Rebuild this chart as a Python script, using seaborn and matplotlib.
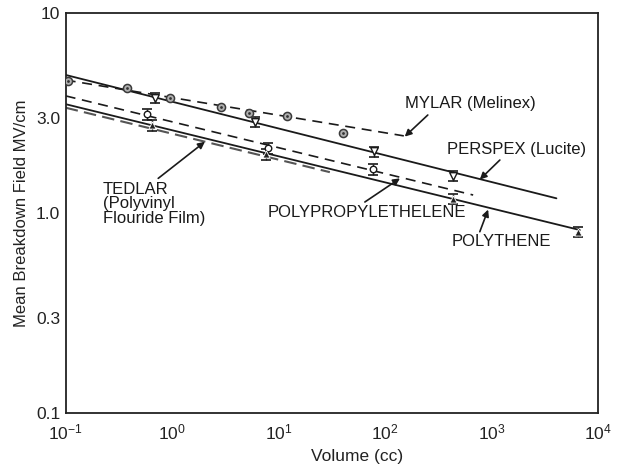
import matplotlib
matplotlib.use("Agg")
import matplotlib.pyplot as plt
import matplotlib.ticker as mticker
import numpy as np
import pandas as pd
import seaborn as sns

# ---- data ----
mylar_vol = [0.106, 0.374, 0.953, 2.85, 5.3, 11.9, 40.4]
mylar_field = [4.59, 4.23, 3.75, 3.38, 3.15, 3.04, 2.50]
mylar_fit_vol = [0.1, 150]
mylar_fit_field = [4.62, 2.43]

perspex_vol = [0.69, 6.0, 79.4, 436]
perspex_field = [3.75, 2.86, 2.03, 1.53]
perspex_err = [0.22, 0.17, 0.12, 0.09]
perspex_fit_vol = [0.1, 4070]
perspex_fit_field = [4.90, 1.184]

polyprop_vol = [0.583, 7.99, 77.6]
polyprop_field = [3.12, 2.11, 1.65]
polyprop_err = [0.19, 0.13, 0.10]
polyprop_fit_vol = [0.1, 672]
polyprop_fit_field = [3.85, 1.23]

polythene_vol = [0.642, 7.6, 436, 6460]
polythene_field = [2.75, 1.97, 1.18, 0.806]
polythene_err = [0.17, 0.12, 0.07, 0.05]
polythene_fit_vol = [0.1, 6750]
polythene_fit_field = [3.50, 0.822]

tedlar_fit_vol = [0.1, 30.3]
tedlar_fit_field = [3.36, 1.60]

y_ticks = [0.1, 0.3, 1.0, 3.0, 10]
y_tick_labels = ["0.1", "0.3", "1.0", "3.0", "10"]
x_ticks = [0.1, 1, 10, 100, 1000, 10000]

# ---- style ----
sns.set_theme(style="white")
plt.rcParams["font.family"] = ["Liberation Sans", "DejaVu Sans"]
plt.rcParams["mathtext.fontset"] = "custom"
plt.rcParams["mathtext.rm"] = "Liberation Sans"
plt.rcParams["mathtext.it"] = "Liberation Sans:italic"
plt.rcParams["mathtext.bf"] = "Liberation Sans:bold"

fig = plt.figure(figsize=(6.22, 4.69), dpi=100)
ax = fig.add_axes([0.1056, 0.1194, 0.8558, 0.8529])
ax.set_xscale("log")
ax.set_yscale("log")

line_col = "#1a1a1a"

def fit_line(xs, ys, dashed=False, color=line_col, lw=1.3, dashes=(6, 4)):
    df = pd.DataFrame({"v": xs, "e": ys})
    l = sns.lineplot(data=df, x="v", y="e", ax=ax, color=color, lw=lw,
                     estimator=None, sort=False, legend=False)
    if dashed:
        l.lines[-1].set_dashes(dashes)

fit_line(perspex_fit_vol, perspex_fit_field)
fit_line(polythene_fit_vol, polythene_fit_field)
fit_line(mylar_fit_vol, mylar_fit_field, dashed=True, lw=1.2)
fit_line(polyprop_fit_vol, polyprop_fit_field, dashed=True, lw=1.2)
fit_line(tedlar_fit_vol, tedlar_fit_field, dashed=True, color="#555555", lw=1.5, dashes=(6, 3))

# error bars
def ebars(xs, ys, errs):
    ax.errorbar(xs, ys, yerr=errs, fmt="none", ecolor=line_col, elinewidth=1.0,
                capsize=3.5, capthick=1.2, zorder=3)

ebars(perspex_vol, perspex_field, perspex_err)
ebars(polyprop_vol, polyprop_field, polyprop_err)
ebars(polythene_vol, polythene_field, polythene_err)

# points
sns.scatterplot(x=mylar_vol, y=mylar_field, ax=ax, marker="o", s=34,
                facecolor="#b0b0b0", edgecolor="#3a3a3a", linewidth=1.1, zorder=4)
sns.scatterplot(x=mylar_vol, y=mylar_field, ax=ax, marker="o", s=4,
                color="#333333", linewidth=0, zorder=5)
sns.scatterplot(x=perspex_vol, y=perspex_field, ax=ax, marker="v", s=30,
                facecolor="white", edgecolor=line_col, linewidth=1.0, zorder=4)
sns.scatterplot(x=polyprop_vol, y=polyprop_field, ax=ax, marker="o", s=22,
                facecolor="white", edgecolor=line_col, linewidth=1.0, zorder=4)
sns.scatterplot(x=polythene_vol, y=polythene_field, ax=ax, marker="^", s=26,
                color="#222222", linewidth=0.6, zorder=4)

# axes
ax.set_xlim(0.1, 1e4)
ax.set_ylim(0.1, 10)
ax.xaxis.set_major_locator(mticker.FixedLocator(x_ticks))
ax.xaxis.set_major_formatter(mticker.LogFormatterSciNotation())
ax.xaxis.set_minor_locator(mticker.NullLocator())
ax.yaxis.set_major_locator(mticker.FixedLocator(y_ticks))
ax.yaxis.set_major_formatter(mticker.FixedFormatter(y_tick_labels))
ax.yaxis.set_minor_locator(mticker.NullLocator())
ax.tick_params(axis="y", direction="in", length=10, width=1.2, labelsize=12.5,
               pad=4, colors="#222222")
ax.tick_params(axis="x", direction="in", length=3.5, width=1.0, labelsize=12.5,
               pad=7, colors="#222222")
for sp in ax.spines.values():
    sp.set_linewidth(1.3)
    sp.set_color("#222222")
ax.set_xlabel("Volume (cc)", fontsize=12.5, color="#222222")
ax.set_ylabel("Mean Breakdown Field MV/cm", fontsize=12, color="#222222")
ax.xaxis.set_label_coords(0.548, -0.09)
ax.yaxis.set_label_coords(-0.068, 0.5)

# annotations
txt_kw = dict(fontsize=12, color="#1a1a1a", va="center", ha="left")
arrow_kw = dict(arrowstyle="-|>", color="#1a1a1a", lw=1.2, mutation_scale=10,
                shrinkA=0, shrinkB=0)

ax.text(153, 3.51, "MYLAR (Melinex)", **txt_kw)
ax.annotate("", xy=(153, 2.41), xytext=(252, 3.09), arrowprops=arrow_kw)

ax.text(380, 2.07, "PERSPEX (Lucite)", **txt_kw)
ax.annotate("", xy=(776, 1.47), xytext=(1197, 1.84), arrowprops=arrow_kw)

ax.text(7.93, 1.01, "POLYPROPYLETHELENE", **txt_kw)
ax.annotate("", xy=(138, 1.49), xytext=(64.6, 1.135), arrowprops=arrow_kw)

ax.text(424, 0.724, "POLYTHENE", **txt_kw)
ax.annotate("", xy=(929, 1.04), xytext=(776, 0.806), arrowprops=arrow_kw)

ax.text(0.224, 1.43, "TEDLAR\n(Polyvinyl\nFlouride Film)", fontsize=12,
        color="#1a1a1a", va="top", ha="left", linespacing=0.95)
ax.annotate("", xy=(2.03, 2.27), xytext=(0.74, 1.49), arrowprops=arrow_kw)

fig.savefig("out.png", dpi=100, facecolor="white")
